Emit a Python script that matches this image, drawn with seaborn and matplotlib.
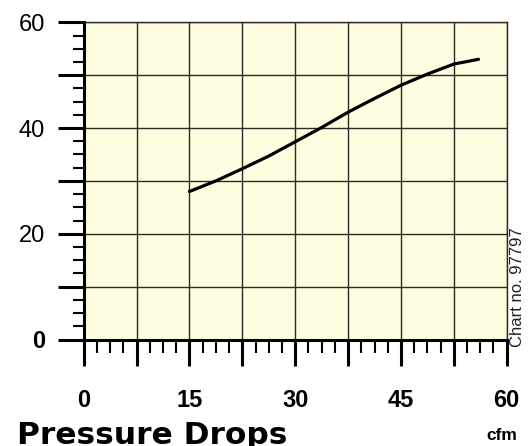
import matplotlib
matplotlib.use("Agg")
import matplotlib.pyplot as plt
import seaborn as sns
import pandas as pd
from matplotlib.ticker import MultipleLocator, FixedLocator, FixedFormatter

# Data
cfm = [15, 18.75, 22.5, 26.25, 30, 33.75, 37.5, 41.25, 45, 48.75, 52.5, 56]
pressure = [28, 30, 32.3, 34.7, 37.4, 40.1, 43, 45.6, 48.1, 50.2, 52.1, 53]
x_major = [0, 7.5, 15, 22.5, 30, 37.5, 45, 52.5, 60]
x_labels = ["0", "", "15", "", "30", "", "45", "", "60"]
y_major = [0, 10, 20, 30, 40, 50, 60]
y_labels = ["0", "", "20", "", "40", "", "60"]
title = "Pressure Drops"
unit = "cfm"
chart_no = "Chart no. 97797"

sns.set_style("white")
plt.rcParams['font.family'] = ['Liberation Sans', 'DejaVu Sans']
plt.rcParams['text.color'] = 'black'
plt.rcParams['xtick.color'] = 'black'
plt.rcParams['ytick.color'] = 'black'
plt.rcParams['xtick.labelcolor'] = 'black'
plt.rcParams['ytick.labelcolor'] = 'black'

fig = plt.figure(figsize=(5.29, 4.46), dpi=100)
ax = fig.add_axes([83.7/529, 1-339.5/446, (506.7-83.7)/529, (339.5-22.3)/446])
ax.set_facecolor('#FFFDE0')

df = pd.DataFrame({"cfm": cfm, "pressure": pressure})
sns.lineplot(data=df, x="cfm", y="pressure", ax=ax, color='black', linewidth=2.3, zorder=5)

ax.set_xlim(0, 60)
ax.set_ylim(0, 60)
ax.set_xlabel("")
ax.set_ylabel("")

ax.xaxis.set_major_locator(FixedLocator(x_major))
ax.xaxis.set_major_formatter(FixedFormatter(x_labels))
ax.xaxis.set_minor_locator(MultipleLocator(1.875))
ax.yaxis.set_major_locator(FixedLocator(y_major))
ax.yaxis.set_major_formatter(FixedFormatter(y_labels))
ax.yaxis.set_minor_locator(MultipleLocator(2.5))

ax.grid(True, which='major', color='#2a2a20', linewidth=1.0)
ax.set_axisbelow(True)

ax.tick_params(axis='both', which='both', bottom=True, left=True, top=False, right=False)
ax.tick_params(axis='both', which='major', direction='out', length=18.7, width=2.2,
               color='black', labelsize=17, labelcolor='black')
ax.tick_params(axis='both', which='minor', direction='out', length=8, width=1.5, color='black')
ax.tick_params(axis='x', which='minor', length=9.4)
ax.tick_params(axis='x', which='major', pad=17)
ax.tick_params(axis='y', which='major', pad=9)

for lbl in ax.get_xticklabels():
    lbl.set_fontweight('bold')
ylbls = ax.get_yticklabels()
ylbls[0].set_fontweight('bold')

for side in ['left', 'bottom']:
    ax.spines[side].set_linewidth(2.2)
    ax.spines[side].set_color('black')
for side in ['top', 'right']:
    ax.spines[side].set_linewidth(1.0)
    ax.spines[side].set_color('#2a2a20')

fig.text(17/529, 1-436/446, title, fontsize=22.5, fontweight='bold',
         family=['DejaVu Sans'], ha='left', va='center', color='black')
fig.text(502/529, 1-436/446, unit, fontsize=12.5, fontweight='bold', ha='center', va='center',
         color='black')
fig.text(518/529, 1-347/446, chart_no, fontsize=12, rotation=90, ha='center', va='bottom',
         color='#222222')

fig.savefig("out.png", dpi=100)
